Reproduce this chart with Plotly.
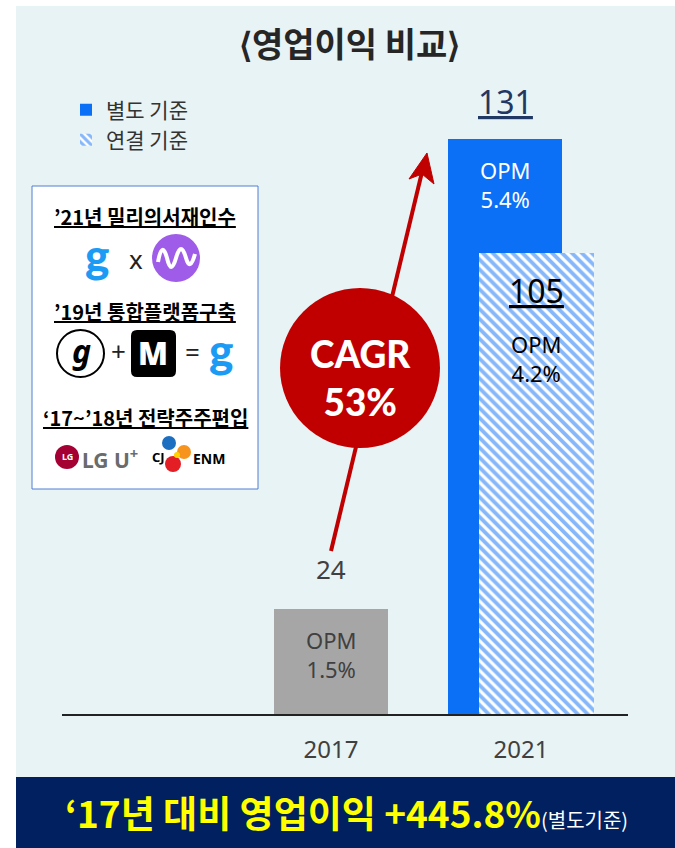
import plotly.graph_objects as go

W, H = 675, 848

# ---- data ----
years = ["2017", "2021"]
year_pos = [0, 1]
separate_2017 = [24]
separate_2021 = [131]
consolidated_2021 = [105]
opm_2017 = "1.5%"
opm_sep_2021 = "5.4%"
opm_con_2021 = "4.2%"
series_names = ["별도 기준", "연결 기준"]
cagr_text = "53%"
growth_text = "+445.8%"

KR = "Noto Sans CJK KR"
NUM = "Noto Sans"
BLUE = "#0B70F5"
GRAY = "#A6A6A6"
RED = "#C00000"
NAVY = "#002060"
BG = "#E7F3F5"


def X(px):
    return px / W


def Y(py):
    return 1 - py / H


def path(cmds):
    out = []
    for c, pts in cmds:
        coords = []
        for i in range(0, len(pts), 2):
            coords.append(f"{X(pts[i]):.5f},{Y(pts[i+1]):.5f}")
        out.append((c + " " + " ".join(coords)).strip())
    return " ".join(out)


fig = go.Figure()

# gray 2017 bar
fig.add_trace(go.Bar(x=[year_pos[0]], y=separate_2017, width=0.6,
                     marker=dict(color=GRAY, line=dict(width=0)),
                     showlegend=False, hoverinfo="skip"))
# blue separate 2021
fig.add_trace(go.Bar(x=[year_pos[1]], y=separate_2021, width=0.6, offset=-0.384,
                     marker=dict(color=BLUE, line=dict(width=0)),
                     name=series_names[0], hoverinfo="skip", legend="legend"))
# hatched consolidated 2021
fig.add_trace(go.Bar(x=[year_pos[1]], y=consolidated_2021, width=0.605, offset=-0.221,
                     marker=dict(color="white", line=dict(width=0),
                                 pattern=dict(shape="\\", fgcolor=BLUE, bgcolor="white",
                                              size=7, solidity=0.55)),
                     name=series_names[1], hoverinfo="skip", legend="legend2"))

shapes = []
shapes.append(dict(type="rect", xref="paper", yref="paper", x0=X(16), x1=X(675),
                   y0=Y(777), y1=Y(6), fillcolor=BG, line=dict(width=0), layer="below"))
shapes.append(dict(type="rect", xref="paper", yref="paper", x0=X(16), x1=X(675),
                   y0=Y(848), y1=Y(777), fillcolor=NAVY, line=dict(width=0), layer="below"))
shapes.append(dict(type="rect", xref="paper", yref="paper", x0=X(32), x1=X(258),
                   y0=Y(489), y1=Y(186), fillcolor="white",
                   line=dict(color="#4F7FD2", width=1), layer="above"))

# arrow line
shapes.append(dict(type="line", xref="paper", yref="paper", x0=X(331), y0=Y(551),
                   x1=X(422), y1=Y(172), line=dict(color=RED, width=4), layer="above"))
# CAGR circle
shapes.append(dict(type="circle", xref="paper", yref="paper", x0=X(280), x1=X(440),
                   y0=Y(448), y1=Y(288), fillcolor=RED, line=dict(width=0), layer="above"))
# arrowhead
shapes.append(dict(type="path", xref="paper", yref="paper",
                   path=path([("M", [427, 153]), ("L", [434, 184]), ("L", [422, 174]),
                              ("L", [409, 179]), ("Z", [])]),
                   fillcolor=RED, line=dict(color=RED, width=1), layer="above"))

# logos in box
shapes.append(dict(type="circle", xref="paper", yref="paper", x0=X(152), x1=X(200),
                   y0=Y(282), y1=Y(234), fillcolor="#9E5CE8", line=dict(width=0), layer="above"))
shapes.append(dict(type="path", xref="paper", yref="paper",
                   path=path([("M", [158, 262]), ("Q", [162, 240, 167, 258]),
                              ("Q", [171, 276, 176, 258]), ("Q", [181, 240, 186, 258]),
                              ("Q", [190, 272, 195, 254])]),
                   line=dict(color="white", width=4), layer="above"))
shapes.append(dict(type="circle", xref="paper", yref="paper", x0=X(57), x1=X(104),
                   y0=Y(377), y1=Y(330), fillcolor="white", line=dict(color="black", width=2),
                   layer="above"))
r = 6
x0, x1, y0, y1 = 131, 176, 330, 377
shapes.append(dict(type="path", xref="paper", yref="paper",
                   path=path([("M", [x0 + r, y0]), ("L", [x1 - r, y0]), ("Q", [x1, y0, x1, y0 + r]),
                              ("L", [x1, y1 - r]), ("Q", [x1, y1, x1 - r, y1]),
                              ("L", [x0 + r, y1]), ("Q", [x0, y1, x0, y1 - r]),
                              ("L", [x0, y0 + r]), ("Q", [x0, y0, x0 + r, y0]), ("Z", [])]),
                   fillcolor="black", line=dict(width=0), layer="above"))
shapes.append(dict(type="circle", xref="paper", yref="paper", x0=X(55), x1=X(79),
                   y0=Y(469), y1=Y(445), fillcolor="#A50034", line=dict(width=0), layer="above"))
for cx, cy, rr, col in [(169, 443, 7, "#1C6FC0"), (184, 452, 7, "#F7941D"),
                        (173, 464, 8, "#E31E24"), (177, 455, 3, "#FFD200")]:
    shapes.append(dict(type="circle", xref="paper", yref="paper", x0=X(cx - rr), x1=X(cx + rr),
                       y0=Y(cy + rr), y1=Y(cy - rr), fillcolor=col, line=dict(width=0),
                       layer="above"))

ann = []


def T(px, py, text, size, color="black", family=KR, xanchor="center", weight=None):
    f = dict(size=size, color=color, family=family)
    if weight:
        f["weight"] = weight
    ann.append(dict(xref="paper", yref="paper", x=X(px), y=Y(py), text=text, showarrow=False,
                    xanchor=xanchor, yanchor="middle", font=f))


# title
T(349, 42, "⟨영업이익 비교⟩", 34, "#262626", weight="bold")

# box texts
T(145, 216, "<u>’21년 밀리의서재인수</u>", 20, weight="bold")
T(145, 311, "<u>’19년 통합플랫폼구축</u>", 20, weight="bold")
T(145, 417, "<u>‘17~’18년 전략주주편입</u>", 20, weight="bold")
T(97, 254, "g", 46, "#1C9BF5", family="Lato", weight=900)
T(136, 259, "x", 26, "#222222", family=NUM)
T(81, 351, "<i>g</i>", 32, "black", family=NUM, weight="bold")
T(118, 351, "+", 26, "#222222", family=NUM)
T(153, 353, "M", 31, "white", family=NUM, weight=900)
T(192, 352, "=", 26, "#222222", family=NUM)
T(221, 349, "g", 46, "#1C9BF5", family="Lato", weight=900)
T(67, 457, "LG", 9, "white", family=NUM, weight="bold")
T(80, 458, "LG U<sup>+</sup>", 21, "#6B6B6B", family=NUM, xanchor="left", weight="bold")
T(158, 457, "CJ", 13, "black", family=NUM, weight="bold")
T(209, 458, "ENM", 14, "black", family=NUM, weight="bold")

# CAGR text
T(360, 377, "CAGR<br>" + cagr_text, 37, "white", family="Lato", weight=900)

# banner
T(346, 812, f"‘17년 대비 영업이익 {growth_text}"
    "<span style='font-size:20px;color:white;font-weight:normal'>(별도기준)</span>",
  37, "#FFFF00", weight="bold")

# value labels tied to data
ann.append(dict(xref="x", yref="y", x=year_pos[0], y=separate_2017[0], text=str(separate_2017[0]),
                showarrow=False, yanchor="bottom", yshift=20,
                font=dict(size=26, color="#404040", family=NUM)))
ann.append(dict(xref="x", yref="y", x=year_pos[0], y=separate_2017[0], text="OPM<br>" + opm_2017,
                showarrow=False, yanchor="top", yshift=-14,
                font=dict(size=22, color="#404040", family=NUM)))
ann.append(dict(xref="x", yref="y", x=year_pos[1] - 0.084, y=separate_2021[0],
                text=f"<u>{separate_2021[0]}</u>",
                showarrow=False, yanchor="bottom", yshift=14,
                font=dict(size=32, color="#1F3864", family=NUM)))
ann.append(dict(xref="x", yref="y", x=year_pos[1] - 0.084, y=separate_2021[0], text="OPM<br>" + opm_sep_2021,
                showarrow=False, yanchor="top", yshift=-14,
                font=dict(size=22, color="white", family=NUM)))
ann.append(dict(xref="x", yref="y", x=year_pos[1] + 0.0815, y=consolidated_2021[0],
                text=f"<u>{consolidated_2021[0]}</u>",
                showarrow=False, yanchor="top", yshift=-14,
                font=dict(size=32, color="black", family=NUM)))
ann.append(dict(xref="x", yref="y", x=year_pos[1] + 0.0815, y=consolidated_2021[0], text="OPM<br>" + opm_con_2021,
                showarrow=False, yanchor="top", yshift=-74,
                font=dict(size=22, color="black", family=NUM)))

leg_common = dict(xanchor="left", yanchor="middle", bgcolor="rgba(0,0,0,0)",
                  font=dict(size=21, color="#333333", family=KR))

fig.update_layout(
    width=W, height=H,
    margin=dict(l=0, r=0, t=0, b=0),
    paper_bgcolor="white",
    plot_bgcolor="rgba(0,0,0,0)",
    barmode="overlay",
    bargap=0,
    shapes=shapes,
    annotations=ann,
    showlegend=True,
    legend=dict(x=X(66), y=Y(110), **leg_common),
    legend2=dict(x=X(66), y=Y(140), **leg_common),
    xaxis=dict(domain=[X(62), X(628)], range=[-1.4158, 1.5632],
               tickvals=year_pos, ticktext=years, ticks="", showgrid=False, zeroline=False,
               showline=True, linecolor="#222222", linewidth=1.5, ticklabelstandoff=13,
               tickfont=dict(size=24, color="#404040", family=NUM), fixedrange=True),
    yaxis=dict(domain=[Y(714), Y(139)], range=[0, separate_2021[0]], visible=False,
               fixedrange=True),
)

fig.write_html("out.html", config=dict(displayModeBar=False),
               post_script="document.body.style.margin='0';document.body.style.overflow='hidden';")
